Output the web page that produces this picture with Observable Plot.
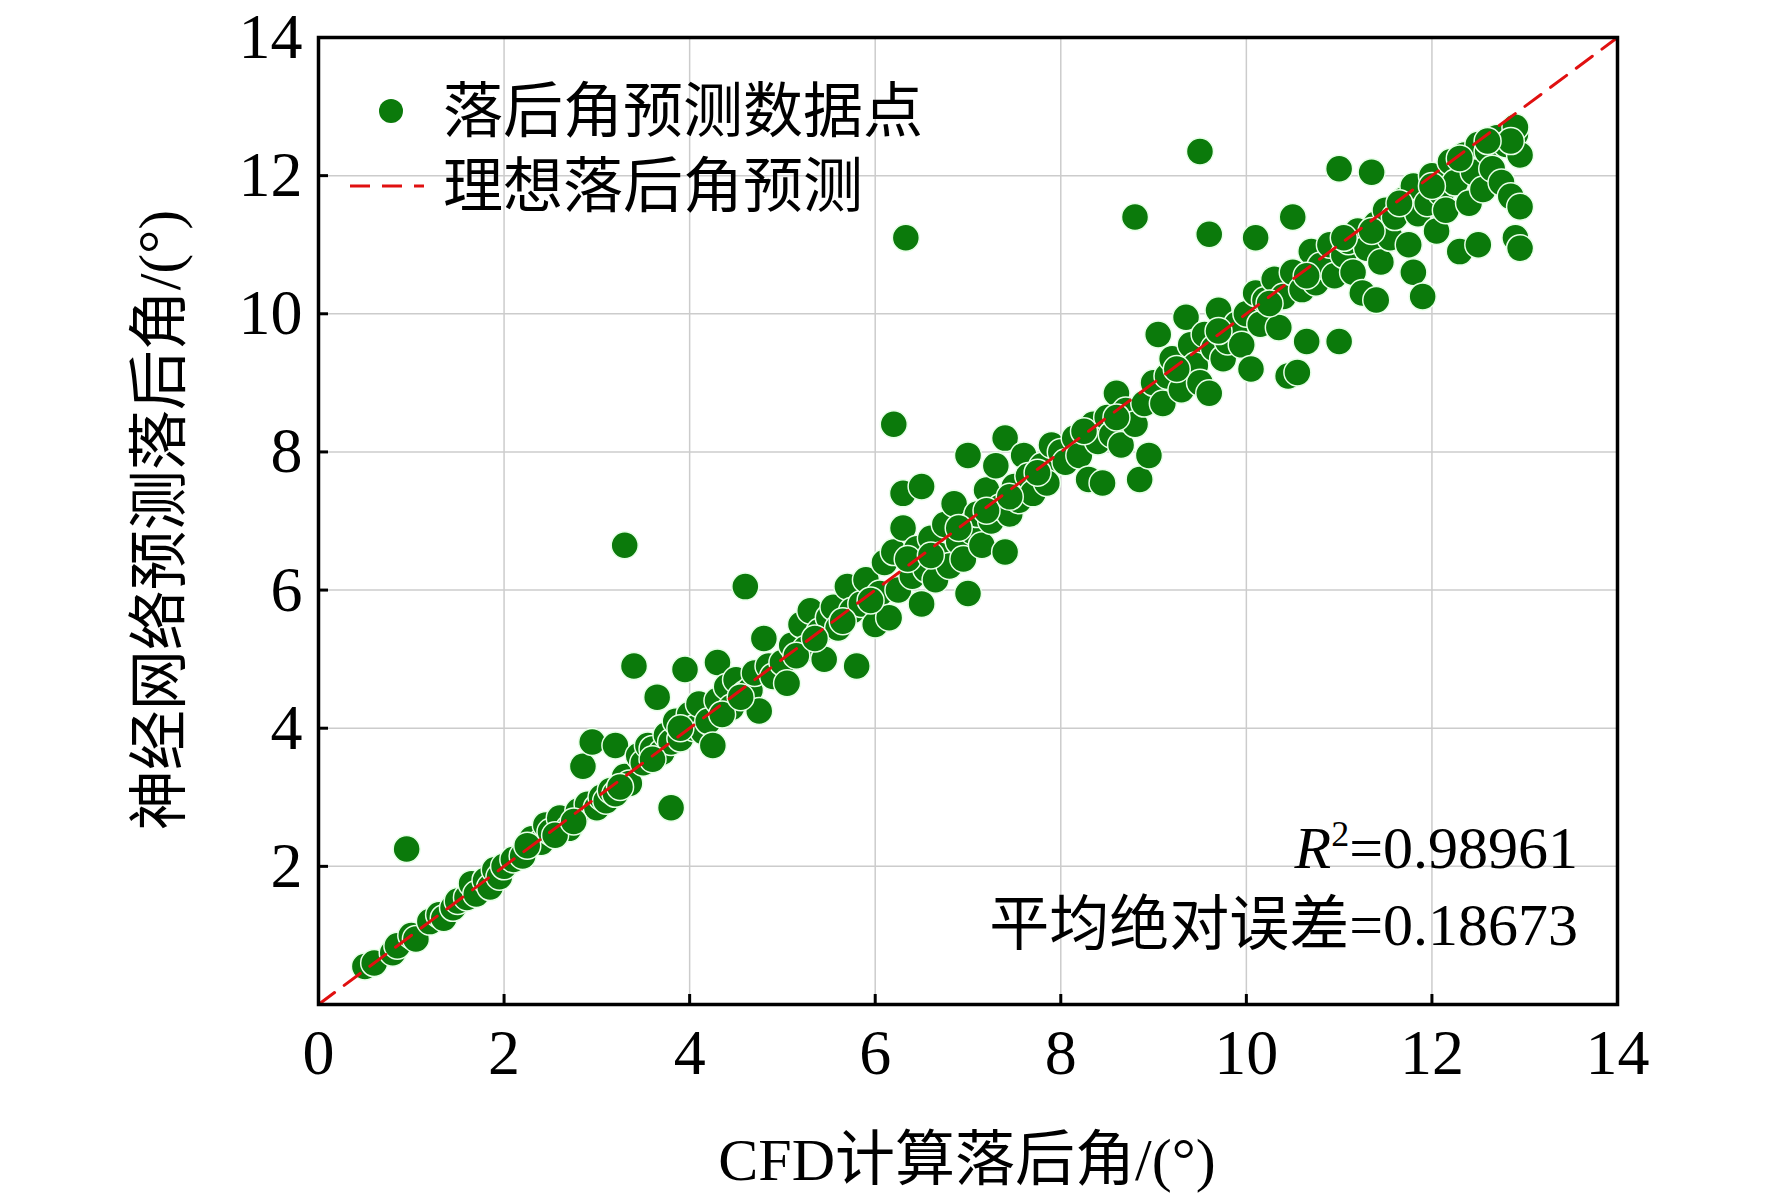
<!DOCTYPE html>
<html><head><meta charset="utf-8">
<script src="https://cdn.jsdelivr.net/npm/d3@7"></script>
<script src="https://cdn.jsdelivr.net/npm/@observablehq/plot@0.6"></script>
<style>body{margin:0;background:#fff}</style>
</head><body><div id="chart"></div>
<script>
// CFD value, predicted value
var points = [
 [0.5,0.55],[0.6,0.6],[0.8,0.75],[0.85,0.85],[0.95,2.25],[1.0,1.0],[1.05,0.95],[1.2,1.2],[1.3,1.3],[1.35,1.25],[1.45,1.4],
 [1.5,1.5],[1.6,1.55],[1.65,1.75],[1.7,1.6],[1.8,1.8],[1.85,1.7],[1.9,1.95],[1.95,1.85],[2.0,2.0],[2.1,2.1],
 [2.2,2.15],[2.3,2.4],[2.4,2.35],[2.45,2.6],[2.5,2.5],[2.6,2.7],[2.7,2.55],[2.8,2.8],[2.85,3.45],[2.9,2.9],
 [2.95,3.8],[3.0,2.85],[3.05,3.0],[3.1,2.95],[3.15,3.1],[3.2,3.75],[3.2,3.05],[3.3,3.3],[3.3,6.65],[3.35,3.2],
 [3.4,4.9],[3.45,3.6],[3.5,3.5],[3.55,3.75],[3.6,3.7],[3.65,4.45],[3.7,3.65],[3.75,3.9],[3.8,2.85],[3.8,3.8],
 [3.85,4.1],[3.9,3.85],[3.95,4.85],[4.0,4.2],[4.05,4.0],[4.1,4.35],[4.15,3.95],[4.2,4.1],[4.25,3.75],[4.3,4.95],
 [4.3,4.4],[4.4,4.6],[4.45,4.3],[4.5,4.7],[4.6,4.5],[4.6,6.05],[4.65,4.55],[4.7,4.8],[4.75,4.25],[4.8,5.3],
 [4.85,4.9],[4.9,4.75],[5.0,4.95],[5.05,4.65],[5.1,5.2],[5.2,5.5],[5.25,5.15],[5.3,5.7],[5.4,5.4],[5.45,5.0],
 [5.5,5.6],[5.55,5.75],[5.6,5.45],[5.7,6.05],[5.75,5.7],[5.8,4.9],[5.85,5.8],[5.9,6.15],[6.0,5.5],[6.05,5.95],
 [6.1,6.4],[6.15,5.6],[6.2,6.55],[6.2,8.4],[6.25,6.0],[6.3,6.9],[6.3,7.4],[6.33,11.1],[6.4,6.2],[6.45,6.6],
 [6.5,5.8],[6.5,7.5],[6.55,6.3],[6.6,6.75],[6.65,6.15],[6.7,6.5],[6.75,6.95],[6.8,6.35],[6.85,7.25],[6.9,6.7],
 [6.95,6.45],[7.0,7.95],[7.0,5.95],[7.05,6.85],[7.1,7.1],[7.15,6.65],[7.2,7.45],[7.25,7.0],[7.3,7.8],[7.35,7.2],
 [7.4,6.55],[7.4,8.2],[7.45,7.1],[7.5,7.5],[7.55,7.3],[7.6,7.95],[7.65,7.65],[7.7,7.4],[7.8,7.8],[7.85,7.55],
 [7.9,8.1],[8.0,8.0],[8.05,7.85],[8.15,8.2],[8.2,7.95],[8.3,7.6],[8.35,8.4],[8.4,8.15],[8.45,7.55],[8.5,8.5],
 [8.55,8.25],[8.6,8.85],[8.65,8.1],[8.7,8.6],[8.8,8.4],[8.8,11.4],[8.85,7.6],[8.9,8.7],[8.95,7.95],[9.0,9.0],
 [9.05,9.7],[9.1,8.7],[9.15,9.1],[9.2,9.35],[9.3,8.9],[9.35,9.95],[9.4,9.55],[9.45,9.25],[9.5,12.35],[9.5,9.0],
 [9.55,9.7],[9.6,11.15],[9.6,8.85],[9.65,9.5],[9.7,10.05],[9.75,9.35],[9.8,9.6],[9.9,9.85],[9.95,9.55],[10.0,10.0],
 [10.05,9.2],[10.1,10.3],[10.1,11.1],[10.15,9.85],[10.2,10.2],[10.3,10.5],[10.35,9.8],[10.4,10.25],[10.45,9.1],[10.5,11.4],
 [10.5,10.6],[10.55,9.15],[10.6,10.35],[10.65,9.6],[10.7,10.9],[10.75,10.45],[10.8,10.7],[10.9,11.0],[10.95,10.55],[11.0,12.1],
 [11.0,9.6],[11.05,10.85],[11.1,11.05],[11.15,10.6],[11.2,11.2],[11.25,10.3],[11.3,10.95],[11.35,12.05],[11.4,11.3],[11.4,10.2],
 [11.45,10.75],[11.5,11.5],[11.55,11.1],[11.6,11.4],[11.7,11.65],[11.75,11.0],[11.8,11.85],[11.8,10.6],[11.85,11.45],[11.9,10.25],
 [11.95,11.6],[12.0,12.0],[12.05,11.2],[12.1,11.75],[12.15,11.5],[12.2,12.2],[12.25,11.9],[12.3,10.9],[12.35,12.3],[12.4,11.6],
 [12.45,12.05],[12.5,12.45],[12.5,11.0],[12.55,11.8],[12.6,12.35],[12.65,12.1],[12.7,12.55],[12.75,11.9],[12.8,12.45],[12.85,11.7],
 [12.9,12.6],[12.9,11.1],[12.95,12.3],[12.95,11.55],[12.95,10.95],[12.9,12.7],[12.85,12.5],
 [2.25,2.3],[2.55,2.45],[2.75,2.65],[3.25,3.15],[3.6,3.55],[3.9,4.0],[4.35,4.2],[4.55,4.45],[5.15,5.05],[5.35,5.3],
 [5.65,5.55],[5.95,5.85],[6.35,6.45],[6.6,6.5],[6.9,6.9],[7.2,7.15],[7.45,7.35],[7.75,7.7],[8.25,8.3],[8.6,8.5],
 [9.25,9.2],[9.7,9.75],[10.25,10.15],[10.65,10.55],[11.05,11.1],[11.35,11.2],[11.65,11.6],[12.0,11.85],[12.3,12.25],[12.6,12.5]
];
var ideal = [[0, 0], [14, 14]];
var ticks = [0, 2, 4, 6, 8, 10, 12, 14];
var yTicks = [2, 4, 6, 8, 10, 12, 14];
var xLabel = "CFD计算落后角/(°)";
var yLabel = "神经网络预测落后角/(°)";
var legendDots = "落后角预测数据点";
var legendLine = "理想落后角预测";
var r2 = "0.98961";
var mae = "0.18673";

var serif = "'Liberation Serif','Noto Sans CJK SC',serif";
var green = "#0b7a0b";

var plot = Plot.plot({
  width: 1772, height: 1201,
  marginLeft: 318, marginRight: 155, marginTop: 37, marginBottom: 197,
  style: {fontFamily: serif, fontSize: "64px", background: "#fff", color: "#000"},
  x: {domain: [0, 14], label: null},
  y: {domain: [0, 14], label: null},
  marks: [
    Plot.gridX(ticks, {stroke: "#ccc", strokeOpacity: 1, strokeWidth: 1.5}),
    Plot.gridY(yTicks, {stroke: "#ccc", strokeOpacity: 1, strokeWidth: 1.5}),
    Plot.dot(points, {x: d => d[0], y: d => d[1], r: 13.5, fill: green, stroke: "#e8ffe8", strokeWidth: 1.5}),
    Plot.line(ideal, {x: d => d[0], y: d => d[1], stroke: "#e01010", strokeWidth: 3, strokeDasharray: "20,12"}),
    Plot.axisX({ticks: ticks, tickSize: -10, tickPadding: 34, strokeWidth: 3, fontSize: 64}),
    Plot.axisY({ticks: yTicks, tickSize: -10, tickPadding: 26, strokeWidth: 3, fontSize: 64}),
    Plot.frame({stroke: "#000", strokeWidth: 3.5})
  ]
});
var svg = d3.select(plot);
svg.selectAll("text").style("font-family", serif);
function label(x, y, anchor) {
  return svg.append("text").attr("x", x).attr("y", y).attr("text-anchor", anchor)
    .style("font-size", "60px").style("font-family", serif);
}
label(967, 1180, "middle").text(xLabel);
svg.append("text").attr("transform", "translate(180,520) rotate(-90)").attr("text-anchor", "middle")
  .style("font-size", "60px").style("font-family", serif).text(yLabel);
var rt = label(1578, 868, "end");
rt.append("tspan").style("font-style", "italic").text("R");
rt.append("tspan").attr("dy", -22).style("font-size", "36px").text("2");
rt.append("tspan").attr("dy", 22).text("=" + r2);
label(1578, 945, "end").text("平均绝对误差=" + mae);
svg.append("circle").attr("cx", 391).attr("cy", 111).attr("r", 12).attr("fill", green);
label(443, 132, "start").text(legendDots);
svg.append("line").attr("x1", 350).attr("x2", 424).attr("y1", 186).attr("y2", 186)
  .attr("stroke", "#e01010").attr("stroke-width", 3).attr("stroke-dasharray", "20,12");
label(443, 207, "start").text(legendLine);
document.getElementById("chart").append(plot);
</script></body></html>
